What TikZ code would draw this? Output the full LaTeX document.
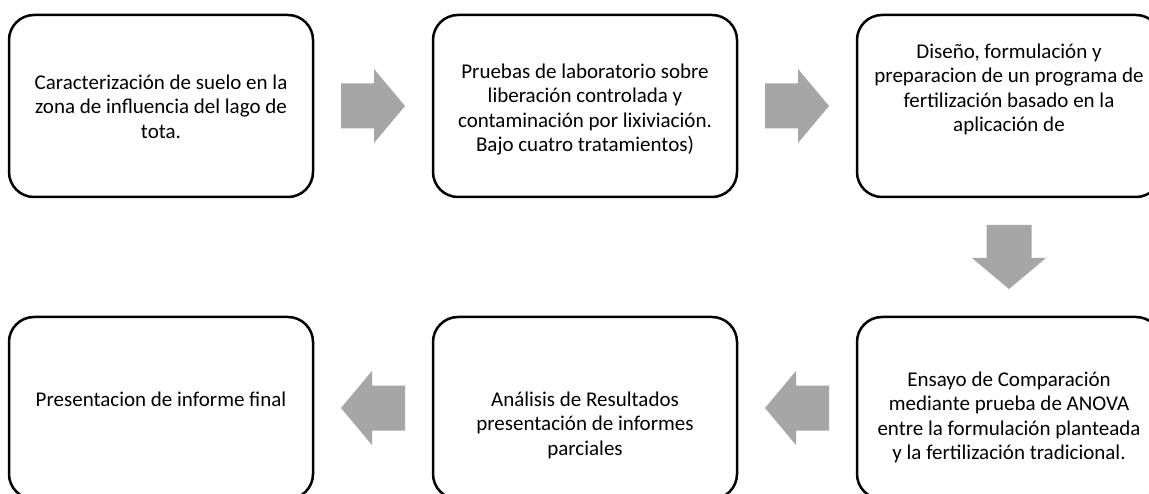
\documentclass[tikz,border=0pt]{standalone}
\usepackage{fontspec}
\setmainfont{Carlito}
\usetikzlibrary{calc}
\definecolor{arrowgray}{RGB}{166,166,166}
\tikzset{
  stepbox/.style={draw=black, line width=2.5pt, rounded corners=25pt, minimum width=304pt, minimum height=182pt, inner sep=0pt},
  txt/.style={font=\fontsize{21}{24.5}\selectfont, align=center, inner sep=0pt, anchor=north},
  blockarrow/.pic={\fill[arrowgray] (-32,-22.5) -- (1,-22.5) -- (1,-37) -- (32,0) -- (1,37) -- (1,22.5) -- (-32,22.5) -- cycle;}
}
\newcommand{\firststrut}{\rule{0pt}{18pt}}
\begin{document}
\begin{tikzpicture}[x=1pt,y=-1pt]
\useasboundingbox (0,0) rectangle (1149,494);
\clip (0,0) rectangle (1149,494);
\fill[white] (0,0) rectangle (1149,494);
% boxes
\node[stepbox] (b1) at (161,106) {};
\node[stepbox] (b2) at (585,106) {};
\node[stepbox] (b3) at (1009,106) {};
\node[stepbox] (b4) at (161,408) {};
\node[stepbox] (b5) at (585,408) {};
\node[stepbox] (b6) at (1009,408) {};
% texts
\node[txt] (t1) at (161,71) {\firststrut Caracterización de suelo en la\\zona de influencia del lago de\\tota.};
\node[txt] (t2) at (585,60) {\firststrut Pruebas de laboratorio sobre\\liberación controlada y\\contaminación por lixiviación.\\Bajo cuatro tratamientos)};
\node[txt] (t3) at (1009,40) {\firststrut Diseño, formulación y\\preparacion de un programa de\\fertilización basado en la\\aplicación de};
\node[txt] (t6) at (1009,368) {\firststrut Ensayo de Comparación\\mediante prueba de ANOVA\\entre la formulación planteada\\y la fertilización tradicional.};
\node[txt] (t5) at (585,388) {\firststrut Análisis de Resultados\\presentación de informes\\parciales};
\node[txt] (t4) at (161,388) {\firststrut Presentacion de informe final};
% block arrows
\pic at ($(b1.east)!0.5!(b2.west)$) {blockarrow};
\pic at ($(b2.east)!0.5!(b3.west)$) {blockarrow};
\pic[rotate=-90] at ($(b3.south)!0.5!(b6.north)$) {blockarrow};
\pic[rotate=180] at ($(b6.west)!0.5!(b5.east)$) {blockarrow};
\pic[rotate=180] at ($(b5.west)!0.5!(b4.east)$) {blockarrow};
\end{tikzpicture}
\end{document}
